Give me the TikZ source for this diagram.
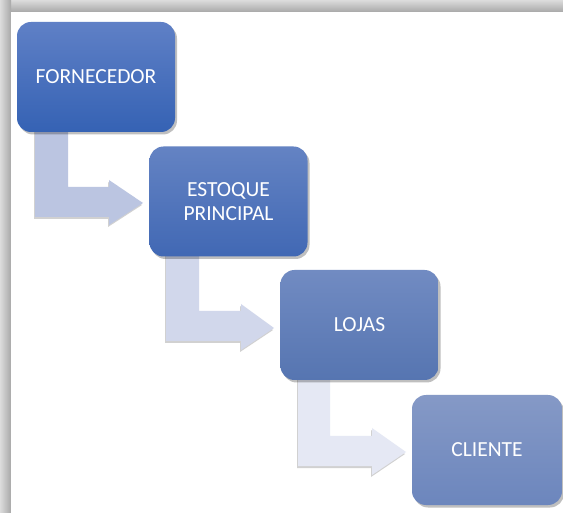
\documentclass[tikz,border=0pt]{standalone}
\usepackage{fontspec}
\setmainfont{Carlito}
\usetikzlibrary{shadows}
\definecolor{frameGray}{HTML}{A8A8A8}
\definecolor{frameLight}{HTML}{DCDCDC}
\definecolor{arrowA}{HTML}{BBC5E1}
\definecolor{arrowB}{HTML}{D1D7EB}
\definecolor{arrowC}{HTML}{E5E8F4}
\definecolor{boxAtop}{HTML}{5F80C6}
\definecolor{boxAbot}{HTML}{3562B4}
\definecolor{boxBtop}{HTML}{6483C3}
\definecolor{boxBbot}{HTML}{4168B4}
\definecolor{boxCtop}{HTML}{718BC2}
\definecolor{boxCbot}{HTML}{5675B1}
\definecolor{boxDtop}{HTML}{8599C6}
\definecolor{boxDbot}{HTML}{6C86BD}
\tikzset{
  stepbox/.style={rounded corners=14pt, minimum width=158pt, minimum height=110pt,
    inner sep=0pt, text=white, align=center,
    font=\fontsize{21.5}{24.5}\selectfont,
    drop shadow={shadow xshift=2pt, shadow yshift=-2.5pt, opacity=0.25, fill=black}},
  bentarrow/.style={draw=none,
    drop shadow={shadow xshift=-1pt, shadow yshift=-2pt, opacity=0.18, fill=black}}
}
\begin{document}
\begin{tikzpicture}[x=1pt,y=-1pt]
\useasboundingbox (0,0) rectangle (563,513);
% page frame with soft shadow
\fill[white] (0,0) rectangle (563,513);
\shade[left color=frameLight, right color=frameGray] (0,0) rectangle (11,513);
\shade[top color=frameLight, bottom color=frameGray] (11,0) rectangle (563,12);
\shade[left color=frameLight, right color=frameGray] (0,0) rectangle (11,12);
\fill[white] (11,12) rectangle (563,513);
% bent arrows
\fill[arrowA, bentarrow] (35,125) -- (68,125) -- (68,187) -- (109,187) -- (109,180) -- (143,203)
  -- (109,225) -- (109,217) -- (35,217) -- cycle;
\fill[arrowB, bentarrow] (166,250) -- (199,250) -- (199,311) -- (241,311) -- (241,304) -- (274,328)
  -- (241,350) -- (241,341) -- (166,341) -- cycle;
\fill[arrowC, bentarrow] (298,374) -- (330,374) -- (330,436) -- (372,436) -- (372,428) -- (406,452)
  -- (372,475) -- (372,466) -- (298,466) -- cycle;
% boxes
\node[stepbox, top color=boxAtop, bottom color=boxAbot] (forn) at (96,77) {FORNECEDOR};
\node[stepbox, top color=boxBtop, bottom color=boxBbot] (estq) at (228.5,201.5) {ESTOQUE\\PRINCIPAL};
\node[stepbox, top color=boxCtop, bottom color=boxCbot] (loja) at (359.5,325) {LOJAS};
\node[stepbox, minimum width=150pt, top color=boxDtop, bottom color=boxDbot] (clie) at (487,450) {CLIENTE};
\end{tikzpicture}
\end{document}
